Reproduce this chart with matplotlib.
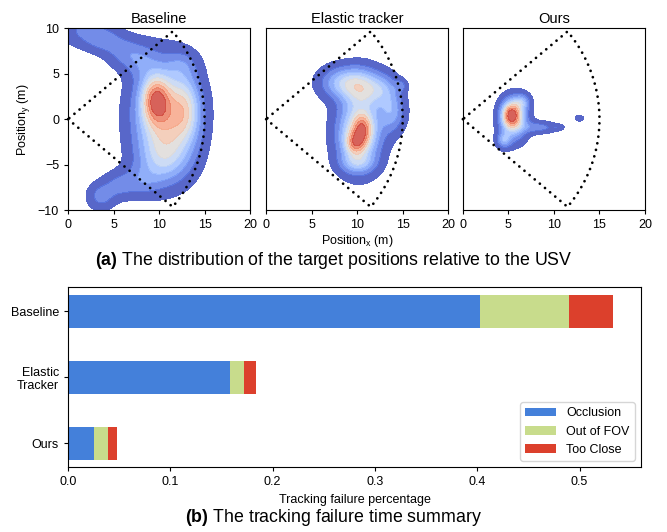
import numpy as np
import matplotlib
matplotlib.use("Agg")
import matplotlib.pyplot as plt

plt.rcParams["font.family"] = ["Liberation Sans", "DejaVu Sans"]
plt.rcParams["mathtext.fontset"] = "custom"
plt.rcParams["mathtext.rm"] = "Liberation Sans"
plt.rcParams["mathtext.bf"] = "Liberation Sans:bold"

# ---- (a) position density: blobs (x, y, sx, sy, weight)
panel_titles = ["Baseline", "Elastic tracker", "Ours"]

baseline_blobs = [
    (10.7, 0.3, 2.2, 3.6, 0.65),
    (9.6, 2.2, 1.0, 1.7, 0.5),
    (13.0, 1.0, 1.1, 2.5, 0.28),
    (12.5, 6.0, 1.2, 1.0, 0.1),
    (10.5, -4.5, 1.9, 1.8, 0.22),
    (1.5, 9.8, 1.6, 1.2, 0.14),
    (3.8, 8.8, 1.3, 1.0, 0.17),
    (6.0, 7.5, 1.3, 1.2, 0.15),
    (8.0, 6.5, 1.3, 1.3, 0.15),
    (3.6, -8.5, 1.0, 1.0, 0.17),
    (5.5, -7.3, 1.2, 1.0, 0.14),
    (8.0, -6.8, 1.5, 1.2, 0.14),
]
elastic_blobs = [
    (10.6, -1.0, 0.7, 1.1, 0.35),
    (9.8, -2.6, 0.75, 0.85, 0.35),
    (10.2, -1.5, 1.6, 2.5, 0.55),
    (8.5, 4.0, 1.7, 1.2, 0.33),
    (10.6, 3.4, 1.4, 1.5, 0.32),
    (12.8, 3.3, 1.2, 1.2, 0.22),
    (14.8, 3.7, 0.45, 0.45, 0.12),
    (13.8, 0.8, 1.0, 1.5, 0.25),
    (10.0, -4.8, 1.3, 0.8, 0.2),
]
ours_blobs = [
    (5.3, 0.5, 0.7, 0.95, 0.55),
    (5.6, 0.0, 1.0, 1.5, 0.45),
    (6.5, 1.9, 0.6, 0.6, 0.22),
    (4.5, -2.3, 0.55, 0.6, 0.25),
    (8.3, -0.9, 1.3, 0.45, 0.17),
    (10.4, -0.9, 0.5, 0.22, 0.08),
    (12.8, 0.1, 0.35, 0.25, 0.1),
]

fov_half_angle = 40.0   # deg
fov_range = 15.0        # m

# ---- (b) tracking failure summary
methods = ["Baseline", "Elastic\nTracker", "Ours"]
occlusion = [0.403, 0.158, 0.025]
out_of_fov = [0.087, 0.014, 0.014]
too_close = [0.043, 0.012, 0.009]


def density(blobs, xx, yy):
    z = np.zeros_like(xx)
    for cx, cy, sx, sy, w in blobs:
        z += w * np.exp(-0.5 * (((xx - cx) / sx) ** 2 + ((yy - cy) / sy) ** 2))
    return z / z.max()


def draw_fov(ax):
    a = np.deg2rad(fov_half_angle)
    th = np.linspace(-a, a, 60)
    xs = np.concatenate([[0], fov_range * np.cos(th), [0]])
    ys = np.concatenate([[0], fov_range * np.sin(th), [0]])
    ax.plot(xs, ys, color="black", linestyle=(0, (0.01, 2.4)), linewidth=2.0,
            dash_capstyle="round", zorder=5, clip_on=False)


fig = plt.figure(figsize=(6.67, 5.32), dpi=100)

gx, gy = np.meshgrid(np.linspace(-1, 21, 300), np.linspace(-11, 11, 300))
levels = list(np.linspace(0.045, 0.86, 10)) + [1.01]
colors = plt.get_cmap("coolwarm")(np.linspace(0.0, 0.92, 10))
lefts = [0.102, 0.399, 0.694]
for i, blobs in enumerate([baseline_blobs, elastic_blobs, ours_blobs]):
    ax = fig.add_axes([lefts[i], 0.605, 0.273, 0.342])
    z = density(blobs, gx, gy)
    ax.contourf(gx, gy, z, levels=levels, colors=colors, alpha=0.85)
    draw_fov(ax)
    ax.set_xlim(0, 20)
    ax.set_ylim(-10, 10)
    ax.set_xticks([0, 5, 10, 15, 20])
    ax.set_yticks([-10, -5, 0, 5, 10])
    ax.tick_params(labelsize=9, length=3)
    ax.set_title(panel_titles[i], fontsize=10.5, pad=4)
    if i == 0:
        ax.set_ylabel(r"Position$_\mathregular{y}$ (m)", fontsize=9)
    else:
        ax.set_yticks([])
    if i == 1:
        ax.set_xlabel(r"Position$_\mathregular{x}$ (m)", fontsize=9, labelpad=1)

fig.text(0.5, 0.51, r"$\mathbf{(a)}$ The distribution of the target positions relative to the USV",
         ha="center", va="center", fontsize=12.8)

bx = fig.add_axes([0.102, 0.122, 0.859, 0.338])
ypos = np.arange(len(methods))[::-1]
h = 0.5
bx.barh(ypos, occlusion, height=h, color="#4480da", label="Occlusion")
left2 = np.array(occlusion)
bx.barh(ypos, out_of_fov, height=h, left=left2, color="#c8dc8c", label="Out of FOV")
left3 = left2 + np.array(out_of_fov)
bx.barh(ypos, too_close, height=h, left=left3, color="#dc402c", label="Too Close")
bx.set_yticks(ypos)
bx.set_yticklabels(methods)
bx.set_xlim(0, 0.56)
bx.set_ylim(-0.36, 2.36)
bx.tick_params(labelsize=9, length=3)
bx.set_xlabel("Tracking failure percentage", fontsize=9, labelpad=4)
bx.legend(loc="lower right", fontsize=9, handlelength=2.5)

fig.text(0.5, 0.028, r"$\mathbf{(b)}$ The tracking failure time summary",
         ha="center", va="center", fontsize=12.8)

fig.savefig("out.png", dpi=100)
